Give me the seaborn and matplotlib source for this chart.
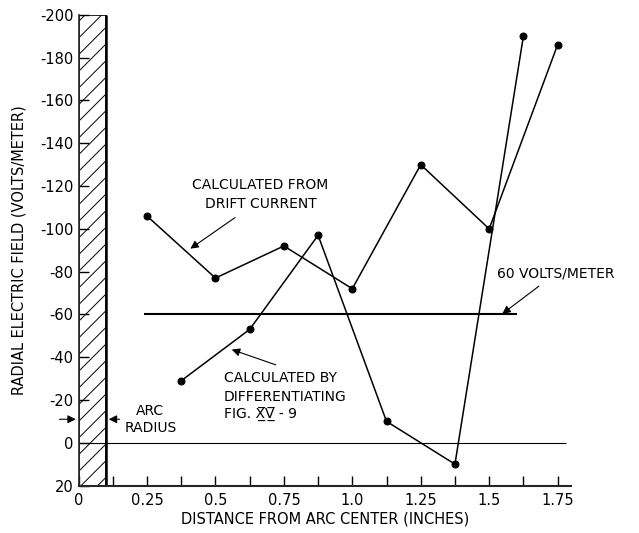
import numpy as np
import pandas as pd
import seaborn as sns
import matplotlib.pyplot as plt
from matplotlib.patches import Rectangle

# veriler
drift_x = [0.25, 0.5, 0.75, 1.0, 1.25, 1.5, 1.75]
drift_y = [-106, -77, -92, -72, -130, -100, -186]

diff_x = [0.375, 0.625, 0.875, 1.125, 1.375, 1.625]
diff_y = [-29, -53, -97, -10, 10, -190]

x_ticks = [0, 0.25, 0.5, 0.75, 1.0, 1.25, 1.5, 1.75]
x_tick_labels = ["0", "0.25", "0.5", "0.75", "1.0", "1.25", "1.5", "1.75"]
y_ticks = list(range(-200, 21, 20))
y_tick_labels = [str(v) for v in y_ticks]

arc_radius = 0.1
reference_level = -60

sns.set_style("ticks")
plt.rcParams['font.family'] = ['DejaVu Sans']
plt.rcParams['axes.unicode_minus'] = False
plt.rcParams['hatch.linewidth'] = 0.7
plt.rcParams['text.color'] = 'black'
plt.rcParams['axes.labelcolor'] = 'black'

fig = plt.figure(figsize=(6.39, 5.33), dpi=100)
ax = fig.add_axes([0.123, 0.089, 0.771, 0.883])

df_drift = pd.DataFrame({'x': drift_x, 'y': drift_y})
df_diff = pd.DataFrame({'x': diff_x, 'y': diff_y})

sns.lineplot(data=df_drift, x='x', y='y', ax=ax, color='black', lw=1.1,
             marker='o', markersize=5, markeredgecolor='black', sort=False)
sns.lineplot(data=df_diff, x='x', y='y', ax=ax, color='black', lw=1.1,
             marker='o', markersize=5, markeredgecolor='black', sort=False)

# 60 V/m cizgisi ve sifir cizgisi
ax.hlines(reference_level, 0.24, 1.60, color='black', lw=1.5)
ax.hlines(0, 0, 1.78, color='black', lw=0.8)

# ark yaricapi (taralı alan)
ax.add_patch(Rectangle((0, 20), arc_radius, -220, fill=False, hatch='//',
                       edgecolor='black', lw=1.2))
ax.vlines(arc_radius, 20, -200, color='black', lw=1.8)

ax.set_xlim(0, 1.80)
ax.set_ylim(20, -200)
ax.set_xticks(x_ticks)
ax.set_xticklabels(x_tick_labels)
ax.set_xticks(np.arange(0.125, 1.8, 0.25), minor=True)
ax.set_yticks(y_ticks)
ax.set_yticklabels(y_tick_labels)
ax.tick_params(axis='both', which='both', direction='in', length=7, width=1,
               labelsize=10.5, colors='black')
ax.tick_params(axis='x', pad=5)
sns.despine(ax=ax)
ax.spines['left'].set_linewidth(1.2)
ax.spines['bottom'].set_linewidth(1.5)

ax.set_xlabel('DISTANCE FROM ARC CENTER (INCHES)', fontsize=10.5, labelpad=3)
ax.set_ylabel('RADIAL ELECTRIC FIELD (VOLTS/METER)', fontsize=10.5, labelpad=10)

arrow = dict(arrowstyle='-|>', color='black', lw=0.8, mutation_scale=12)

ax.text(0.665, -116, 'CALCULATED FROM\nDRIFT CURRENT', ha='center', va='center',
        fontsize=10, linespacing=1.4)
ax.annotate('', xy=(0.40, -90), xytext=(0.58, -106), arrowprops=arrow)

ax.text(0.53, -21.5, 'CALCULATED BY\nDIFFERENTIATING\nFIG. X\u0332\u0305V\u0332\u0305 - 9',
        ha='left', va='center', fontsize=10, linespacing=1.4)
ax.annotate('', xy=(0.55, -44), xytext=(0.73, -36), arrowprops=arrow)

ax.text(1.53, -79, '60 VOLTS/METER', ha='left', va='center', fontsize=10)
ax.annotate('', xy=(1.54, -59.5), xytext=(1.69, -74), arrowprops=arrow)

ax.text(0.167, -11, 'ARC\nRADIUS', ha='left', va='center', fontsize=10,
        linespacing=1.3, multialignment='center')
ax.annotate('', xy=(0, -11), xytext=(-0.08, -11), arrowprops=arrow,
            annotation_clip=False)
ax.annotate('', xy=(arc_radius, -11), xytext=(0.16, -11), arrowprops=arrow)

fig.savefig('out.png', dpi=100)
